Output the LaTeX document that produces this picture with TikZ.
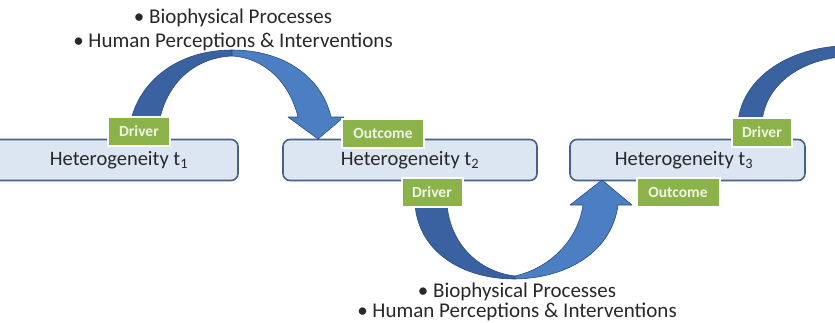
\documentclass[tikz,border=0pt]{standalone}
\usepackage{fontspec}
\setmainfont{Carlito}
\usetikzlibrary{shadows}
\definecolor{boxfill}{RGB}{220,230,242}
\definecolor{boxline}{RGB}{72,98,135}
\definecolor{grn}{RGB}{140,179,74}
\definecolor{grntext}{RGB}{240,246,230}
\definecolor{arrdark}{RGB}{58,98,160}
\definecolor{arrlight}{RGB}{76,126,196}
\definecolor{arrline}{RGB}{42,76,130}
\definecolor{txt}{RGB}{40,40,40}
\begin{document}
\begin{tikzpicture}[x=1pt,y=-1pt,
 hbox/.style={draw=boxline, line width=1.6pt, fill=boxfill, rounded corners=7pt, minimum height=41pt, inner sep=0pt},
 tag/.style={fill=grn, draw=white, line width=2pt, text=grntext, font=\fontsize{15.5}{17}\selectfont\bfseries, minimum height=29pt, inner sep=0pt, drop shadow={opacity=0.3, shadow xshift=1.2pt, shadow yshift=-1.5pt, fill=gray}},
 htext/.style={text=txt, font=\fontsize{20.5}{24}\selectfont, inner sep=0pt},
 bullets/.style={text=txt, font=\fontsize{21}{23}\selectfont, align=center, inner sep=0pt},
 arrd/.style={fill=arrdark, draw=arrline, line width=0.6pt, line join=round},
 arrl/.style={fill=arrlight, draw=arrline, line width=0.6pt, line join=round}]
\useasboundingbox (0,0) rectangle (835,322);

% boxes
\node[hbox, minimum width=252pt] (b1) at (112,160) {};
\node[hbox, minimum width=254pt] (b2) at (410,160) {};
\node[hbox, minimum width=235pt] (b3) at (687.5,160) {};

% top arrow t1 -> t2
\path[arrd] (128,142) .. controls (129,88) and (172,50) .. (232,50)
  -- (232,56) .. controls (188,58) and (158,92) .. (157,142) -- cycle;
\path[arrl] (232,50) .. controls (285,50) and (322,78) .. (331,117)
  -- (344,117) -- (318,139) -- (288,117) -- (298,117)
  .. controls (290,84) and (266,58) .. (232,56) -- cycle;

% bottom arrow t2 -> t3
\path[arrd] (415,204) .. controls (418,250) and (460,279) .. (515,279)
  -- (515,276) .. controls (480,272) and (450,245) .. (447,204) -- cycle;
\path[arrl] (515,279) .. controls (570,278) and (612,250) .. (618,205)
  -- (632,205) -- (602,180) -- (570,205) -- (583,205)
  .. controls (578,240) and (550,268) .. (515,276) -- cycle;

% right arrow leaving t3
\path[arrd] (738,122) .. controls (742,80) and (785,49) .. (840,46)
  -- (840,57) .. controls (795,62) and (765,88) .. (762,122) -- cycle;

% texts in boxes
\node[htext] (h1) at (119,160) {Heterogeneity t\textsubscript{1}};
\node[htext] (h2) at (410,160) {Heterogeneity t\textsubscript{2}};
\node[htext] (h3) at (684,160) {Heterogeneity t\textsubscript{3}};

% tags
\node[tag, minimum width=62pt] (d1) at (139,131) {Driver};
\node[tag, minimum width=82pt] (o2) at (383,133) {Outcome};
\node[tag, minimum width=61pt] (d2) at (432,192) {Driver};
\node[tag, minimum width=83pt] (o3) at (678,192) {Outcome};
\node[tag, minimum width=60pt] (d3) at (762,132) {Driver};

% bullet texts
\node[bullets] (topt) at (233,30) {\textbullet\ Biophysical Processes\\[1pt]\textbullet\ Human Perceptions \& Interventions};
\node[bullets] (bott) at (517,302) {\textbullet\ Biophysical Processes\\[-3pt]\textbullet\ Human Perceptions \& Interventions};
\end{tikzpicture}
\end{document}
